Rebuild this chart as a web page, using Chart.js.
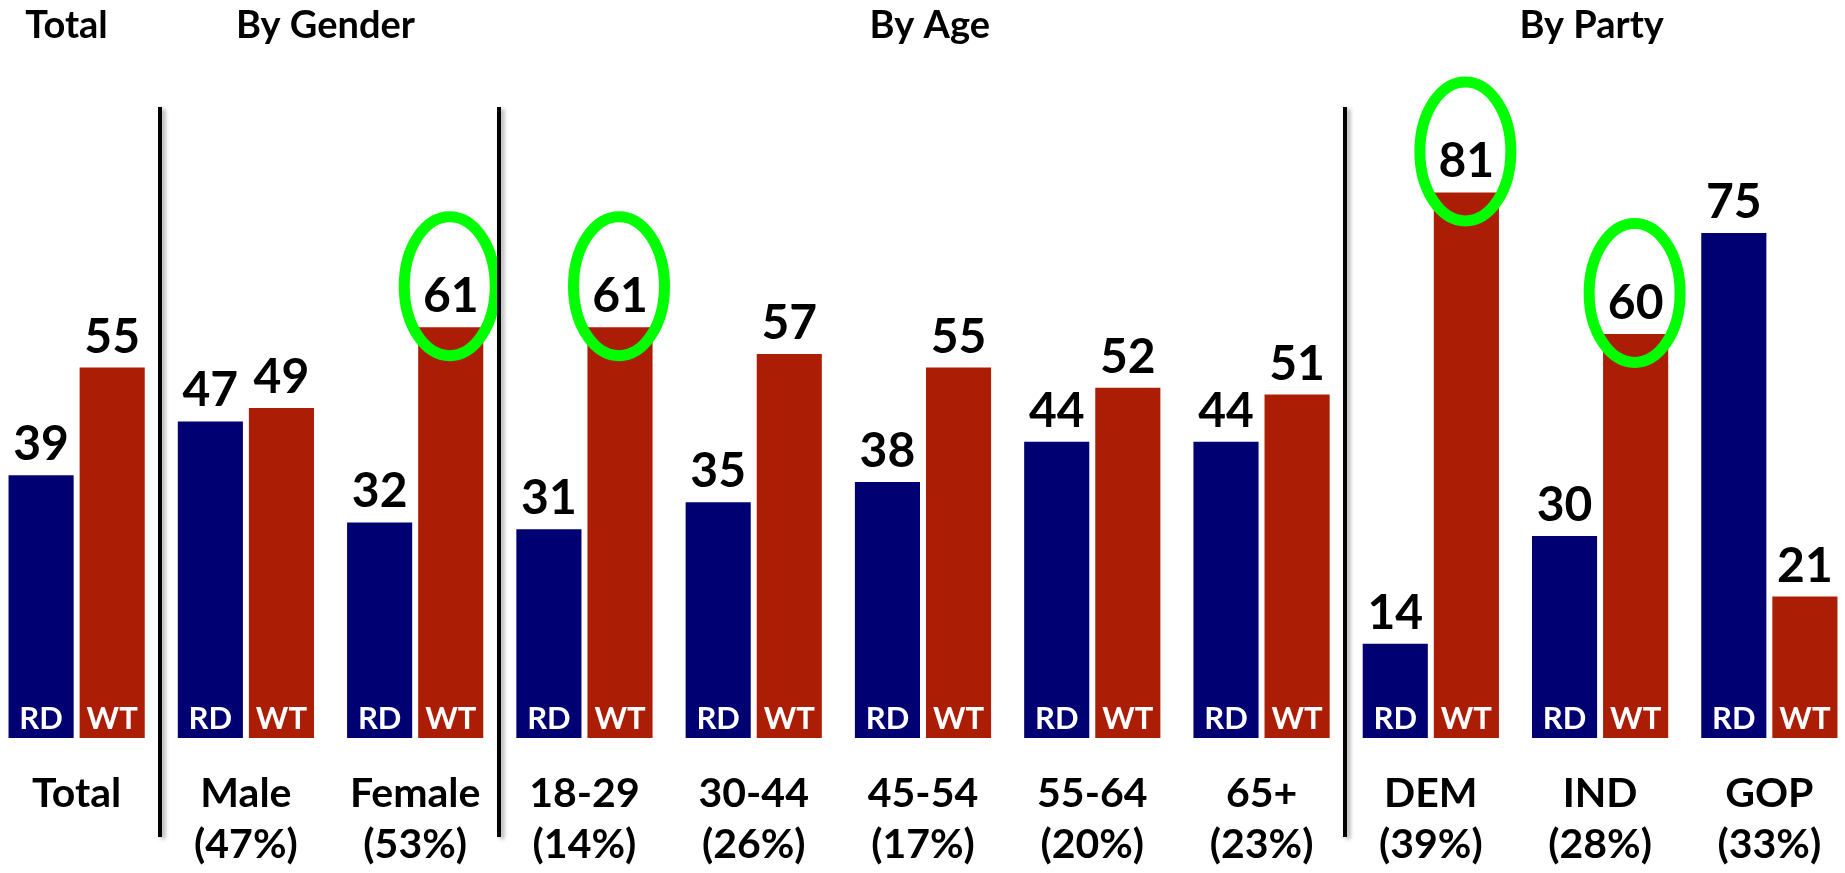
<!DOCTYPE html>
<html>
<head>
<meta charset="utf-8">
<script src="https://cdn.jsdelivr.net/npm/chart.js@4.4.1/dist/chart.umd.min.js"></script>
<style>
  html, body { margin: 0; padding: 0; background: #fff; overflow: hidden; }
  #wrap { position: absolute; left: -8px; top: 0; width: 1862px; height: 873px; }
</style>
</head>
<body>
<div id="wrap"><canvas id="chart" width="1862" height="873"></canvas></div>
<script>
const groupNames = ['Total', 'Male', 'Female', '18-29', '30-44', '45-54', '55-64', '65+', 'DEM', 'IND', 'GOP'];
const groupShares = ['', '(47%)', '(53%)', '(14%)', '(26%)', '(17%)', '(20%)', '(23%)', '(39%)', '(28%)', '(33%)'];
const rdValues = [39, 47, 32, 31, 35, 38, 44, 44, 14, 30, 75];
const wtValues = [55, 49, 61, 61, 57, 55, 52, 51, 81, 60, 21];
const circledWT = [false, false, true, true, false, false, false, false, true, true, false];
const sectionTitles = ['Total', 'By Gender', 'By Age', 'By Party'];

const FONT = 'Lato, "Open Sans", sans-serif';
const NAVY = '#000073';
const RED = '#AB1E05';

//text, dividers and rings drawn on top of the bars
const annotate = {
  id: 'annotate',
  afterDatasetsDraw(chart) {
    const { ctx, scales: { x } } = chart;
    const pitch = x.width / groupNames.length;
    const at = (i) => x.left + (i + 0.5) * pitch;

    ctx.save();
    ctx.textAlign = 'center';
    ctx.textBaseline = 'alphabetic';

    //green rings behind the circled WT values
    const wtBars = chart.getDatasetMeta(1).data;
    ctx.strokeStyle = '#00FF00';
    ctx.lineWidth = 11;
    circledWT.forEach((on, i) => {
      if (!on) return;
      const b = wtBars[i];
      ctx.beginPath();
      ctx.ellipse(b.x - 1, b.y - 41, 45.5, 69.5, 0, 0, Math.PI * 2);
      ctx.stroke();
    });

    //values above bars, series names inside
    ['RD', 'WT'].forEach((name, d) => {
      const values = d === 0 ? rdValues : wtValues;
      chart.getDatasetMeta(d).data.forEach((b, i) => {
        ctx.fillStyle = '#000';
        ctx.font = 'bold 48px ' + FONT;
        ctx.fillText(String(values[i]), b.x, b.y - 15);
        ctx.fillStyle = '#fff';
        ctx.font = 'bold 31px ' + FONT;
        ctx.fillText(name, b.x, b.base - 9);
      });
    });

    //category labels under the chart
    ctx.fillStyle = '#000';
    ctx.font = 'bold 41px ' + FONT;
    groupNames.forEach((name, i) => {
      ctx.fillText(name, at(i), 807);
      if (groupShares[i]) ctx.fillText(groupShares[i], at(i), 858);
    });

    //section headers
    const headerPos = [-0.06, 1.47, 5.04, 8.95];
    ctx.font = 'bold 38px ' + FONT;
    sectionTitles.forEach((t, k) => ctx.fillText(t, at(headerPos[k]), 38));

    //section dividers
    ctx.strokeStyle = '#000';
    ctx.lineWidth = 4;
    ctx.shadowColor = 'rgba(0,0,0,0.35)';
    ctx.shadowOffsetX = 3;
    ctx.shadowOffsetY = 2;
    ctx.shadowBlur = 4;
    [0, 2, 7].forEach((i) => {
      const lx = Math.round(at(i) + pitch / 2) - 1;
      ctx.beginPath();
      ctx.moveTo(lx, 107);
      ctx.lineTo(lx, 837);
      ctx.stroke();
    });
    ctx.restore();
  },
};

function draw() {
  new Chart(document.getElementById('chart'), {
    type: 'bar',
    data: {
      labels: groupNames,
      datasets: [
        {
          label: 'RD',
          data: rdValues,
          backgroundColor: NAVY,
          borderWidth: 0,
          categoryPercentage: 0.84,
          barPercentage: 0.916,
        },
        {
          label: 'WT',
          data: wtValues,
          backgroundColor: RED,
          borderWidth: 0,
          categoryPercentage: 0.84,
          barPercentage: 0.916,
        },
      ],
    },
    options: {
      responsive: false,
      animation: false,
      layout: { padding: { top: 64.5, bottom: 135, left: 0, right: 0 } },
      scales: {
        x: { display: false },
        y: { display: false, min: 0, max: 100 },
      },
      plugins: {
        legend: { display: false },
        tooltip: { enabled: false },
      },
    },
    plugins: [annotate],
  });
}

document.fonts.load('bold 40px Lato').then(draw, draw);
</script>
</body>
</html>
